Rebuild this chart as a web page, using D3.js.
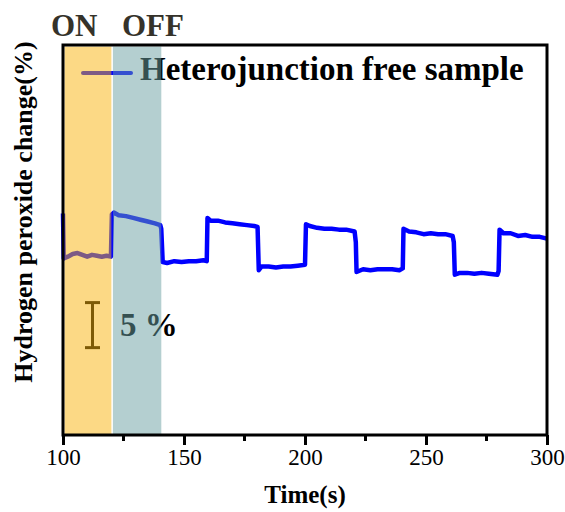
<!DOCTYPE html>
<html>
<head>
<meta charset="utf-8">
<script src="https://cdn.jsdelivr.net/npm/d3@7"></script>
<style>
    body { margin: 0; background: #fff; }
    svg text { font-family: "Liberation Serif", "Times New Roman", serif; }
</style>
</head>
<body>
<script>
// time (s) and H2O2 change (%)
const timeS = [100, 100.3, 102, 104, 106, 108, 110, 112, 114, 116, 118, 119.8,
    120.2, 121, 123, 126, 129, 132, 135, 138, 140.2, 140.6,
    141.2, 143, 146, 149, 152, 155, 158, 159.4,
    159.7, 161, 164, 167, 170, 173, 176, 179, 180.4,
    180.9, 182, 185, 188, 191, 194, 197, 200,
    200.4, 202, 205, 208, 211, 214, 217, 220.5, 221,
    221.3, 224, 227, 230, 233, 236, 239, 240.4,
    240.7, 243, 246, 249, 252, 255, 258, 261, 261.5,
    261.9, 264, 267, 270, 273, 276, 279.5, 280,
    280.4, 282, 285, 288, 291, 294, 297, 300];
const changePct = [4.7, -0.3, -0.1, 0.2, 0.3, 0.1, -0.1, 0.1, 0.0, -0.1, 0.0, -0.1,
    4.6, 4.8, 4.5, 4.4, 4.2, 4.0, 3.8, 3.6, 3.4, 3.0,
    -0.7, -0.8, -0.6, -0.7, -0.6, -0.6, -0.5, -0.6,
    4.2, 3.9, 3.9, 3.7, 3.6, 3.5, 3.4, 3.3, 3.2,
    -1.6, -1.2, -1.2, -1.3, -1.2, -1.2, -1.1, -1.0,
    3.5, 3.3, 3.1, 3.0, 3.0, 2.9, 2.9, 2.7, 1.5,
    -1.8, -1.5, -1.6, -1.5, -1.5, -1.5, -1.6, -1.4,
    3.0, 2.7, 2.6, 2.4, 2.5, 2.4, 2.4, 2.2, 1.5,
    -2.1, -1.9, -1.9, -2.0, -1.9, -2.0, -2.1, -1.7,
    2.9, 2.5, 2.5, 2.2, 2.3, 2.1, 2.1, 1.9];

const xTicks = [100, 150, 200, 250, 300];
const xMinorTicks = [125, 175, 225, 275];
const periodNames = ["ON", "OFF"];
const periodStart = [100, 120];
const periodEnd = [120, 140];
const periodColors = ["#f9b30b", "#699fa1"];
const scaleBarPct = 5;
const seriesName = "Heterojunction free sample";

let width = 565, height = 512;
let margin = {top: 45, right: 18, bottom: 77, left: 63};
let serif = "Liberation Serif, Times New Roman, serif";

let svg = d3.select("body").append("svg")
    .attr("width", width)
    .attr("height", height);

let x = d3.scaleLinear()
    .domain([100, 300])
    .range([margin.left, width - margin.right]);

let y = d3.scaleLinear()
    .domain([-19.9, 23.4])
    .range([height - margin.bottom, margin.top]);

let data = timeS.map((t, i) => ({t: t, v: changePct[i]}));

let line = d3.line()
    .x(d => x(d.t))
    .y(d => y(d.v));

// the trace
svg.append("path")
    .datum(data)
    .attr("d", line)
    .attr("fill", "none")
    .attr("stroke", "#0000ff")
    .attr("stroke-width", 4.5)
    .attr("stroke-linejoin", "round");

// legend
svg.append("line")
    .attr("x1", 83).attr("x2", 131)
    .attr("y1", 73).attr("y2", 73)
    .attr("stroke", "#0000ff")
    .attr("stroke-width", 4)
    .attr("stroke-linecap", "round");

svg.append("text")
    .attr("x", 140).attr("y", 80)
    .attr("font-size", 33)
    .attr("font-weight", "bold")
    .attr("fill", "#000")
    .text(seriesName);

// 5 % scale bar
let barX = 92.5, barLow = -10.2;
let bar = svg.append("g")
    .attr("stroke", "#000")
    .attr("stroke-width", 3);
bar.append("line")
    .attr("x1", barX).attr("x2", barX)
    .attr("y1", y(barLow)).attr("y2", y(barLow + scaleBarPct));
bar.selectAll(".cap")
    .data([barLow, barLow + scaleBarPct])
    .enter().append("line")
    .attr("x1", barX - 7.5).attr("x2", barX + 7.5)
    .attr("y1", d => y(d)).attr("y2", d => y(d));

svg.append("text")
    .attr("x", 120).attr("y", 336)
    .attr("font-size", 33)
    .attr("font-weight", "bold")
    .attr("fill", "#000")
    .text(scaleBarPct + " %");

// ON / OFF shading sits on top of everything, half transparent
svg.append("g")
    .selectAll("rect")
    .data(periodNames)
    .enter().append("rect")
    .attr("x", (d, i) => x(periodStart[i]) + 1.5)
    .attr("width", (d, i) => x(periodEnd[i]) - x(periodStart[i]) - (i === 0 ? 1.5 : 0))
    .attr("y", y.range()[1] + 1.5)
    .attr("height", y.range()[0] - y.range()[1] - 1.5)
    .attr("fill", (d, i) => periodColors[i])
    .attr("opacity", 0.5);

svg.append("g")
    .selectAll("text")
    .data(periodNames)
    .enter().append("text")
    .attr("x", (d, i) => i === 0 ? 51 : 122)
    .attr("y", 36)
    .attr("font-size", 31)
    .attr("font-weight", "bold")
    .attr("fill", "#35322a")
    .text(d => d);

// frame
svg.append("rect")
    .attr("x", margin.left)
    .attr("y", margin.top)
    .attr("width", width - margin.left - margin.right)
    .attr("height", height - margin.top - margin.bottom)
    .attr("fill", "none")
    .attr("stroke", "#000")
    .attr("stroke-width", 3);

// x axis
let xAxis = svg.append("g")
    .attr("transform", "translate(0," + y.range()[0] + ")")
    .call(d3.axisBottom(x).tickValues(xTicks).tickSize(10).tickSizeOuter(0))
    .style("font-family", serif)
    .style("font-size", "23px");
xAxis.select(".domain").remove();
xAxis.selectAll(".tick line").attr("stroke-width", 3);
xAxis.selectAll(".tick text")
    .style("font-family", serif)
    .attr("fill", "#000")
    .attr("y", 14);

svg.append("g")
    .selectAll("line")
    .data(xMinorTicks)
    .enter().append("line")
    .attr("x1", d => x(d)).attr("x2", d => x(d))
    .attr("y1", y.range()[0]).attr("y2", y.range()[0] + 6)
    .attr("stroke", "#000")
    .attr("stroke-width", 3);

// axis titles
svg.append("text")
    .attr("x", (x.range()[0] + x.range()[1]) / 2)
    .attr("y", 503)
    .attr("text-anchor", "middle")
    .attr("font-size", 25)
    .attr("font-weight", "bold")
    .text("Time(s)");

svg.append("text")
    .attr("transform", "translate(32," + 212 + ") rotate(-90)")
    .attr("text-anchor", "middle")
    .attr("font-size", 26)
    .attr("font-weight", "bold")
    .text("Hydrogen peroxide change(%)");
</script>
</body>
</html>
